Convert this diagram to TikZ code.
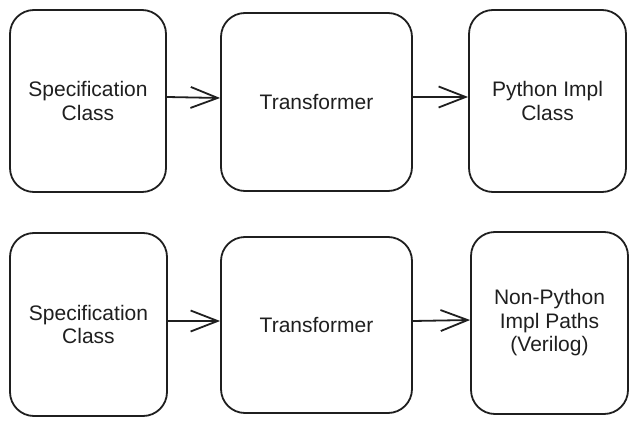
\documentclass[tikz,border=0pt]{standalone}
\usepackage{fontspec}
\setmainfont{Liberation Sans}
\usetikzlibrary{arrows.meta}
\tikzset{
  card/.style={draw=black!88, line width=1.8pt, rounded corners=24pt, fill=white,
    align=center, inner sep=0pt, font=\fontsize{21}{23.5}\selectfont, text=black!88},
  flow/.style={draw=black!88, line width=1.8pt,
    -{Straight Barb[length=27pt, width=21pt, line width=1.8pt]}}
}
\begin{document}
\begin{tikzpicture}[x=1pt, y=-1pt]
\useasboundingbox (0,0) rectangle (637,425);
\node[card, minimum width=156pt, minimum height=182pt] (a1) at (88,101) {Specification\\Class};
\node[card, minimum width=191pt, minimum height=178pt] (a2) at (316.5,102) {Transformer};
\node[card, minimum width=157pt, minimum height=182pt] (a3) at (547.5,101) {Python Impl\\Class};
\node[card, minimum width=157pt, minimum height=183pt] (b1) at (88.5,324.5) {Specification\\Class};
\node[card, minimum width=191pt, minimum height=176pt] (b2) at (316.5,325) {Transformer};
\node[card, minimum width=157pt, minimum height=182pt] (b3) at (549.5,323) {Non-Python\\Impl Paths\\(Verilog)};
\draw[flow] (a1.east |- 0,97) -- (a2.west |- 0,98);
\draw[flow] (a2.east |- 0,97) -- (a3.west |- 0,97);
\draw[flow] (b1.east |- 0,321) -- (b2.west |- 0,321);
\draw[flow] (b2.east |- 0,321) -- (b3.west |- 0,320);
\end{tikzpicture}
\end{document}
